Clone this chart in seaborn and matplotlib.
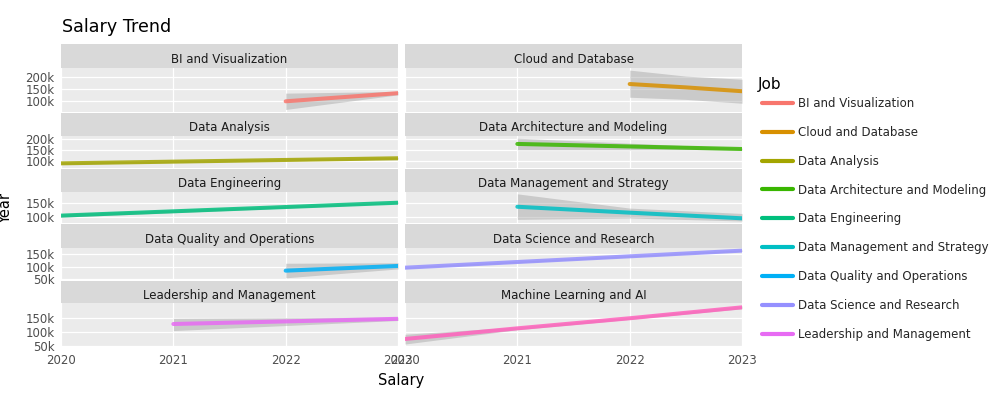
import matplotlib
matplotlib.use("Agg")
import matplotlib.pyplot as plt
from matplotlib.lines import Line2D
from matplotlib.ticker import FuncFormatter, FixedLocator
import seaborn as sns
import pandas as pd

sns.set_style("white")
plt.rcParams["font.family"] = ["DejaVu Sans"]

# ---------------- data ----------------
JOBS = [
    "BI and Visualization", "Cloud and Database", "Data Analysis",
    "Data Architecture and Modeling", "Data Engineering",
    "Data Management and Strategy", "Data Quality and Operations",
    "Data Science and Research", "Leadership and Management",
    "Machine Learning and AI",
]
COLORS = ["#F8766D", "#D89000", "#A3A500", "#39B600", "#00BF7D",
          "#00BFC4", "#00B0F6", "#9590FF", "#E76BF3", "#FF62BC"]

BI_YEARS = [2022, 2023]
BI_FIT = [100000, 134000]
BI_LOW = [66000, 127000]
BI_HIGH = [134000, 141000]

CLOUD_YEARS = [2022, 2022.5, 2023]
CLOUD_FIT = [172000, 158000, 142000]
CLOUD_LOW = [117000, 108000, 92000]
CLOUD_HIGH = [230000, 205000, 192000]

ANALYSIS_YEARS = [2020, 2023]
ANALYSIS_FIT = [88000, 111000]
ANALYSIS_LOW = [84000, 107000]
ANALYSIS_HIGH = [92000, 115000]

ARCH_YEARS = [2021, 2023]
ARCH_FIT = [176000, 153000]
ARCH_LOW = [149000, 149000]
ARCH_HIGH = [202000, 157000]

ENG_YEARS = [2020, 2023]
ENG_FIT = [104000, 152000]
ENG_LOW = [98000, 149000]
ENG_HIGH = [110000, 155000]

MGMT_YEARS = [2021, 2022, 2023]
MGMT_FIT = [137000, 115000, 94000]
MGMT_LOW = [90000, 95000, 84000]
MGMT_HIGH = [185000, 132000, 112000]

QUALITY_YEARS = [2022, 2023]
QUALITY_FIT = [84000, 103000]
QUALITY_LOW = [55000, 91000]
QUALITY_HIGH = [114000, 116000]

SCIENCE_YEARS = [2020, 2023]
SCIENCE_FIT = [96000, 165000]
SCIENCE_LOW = [93000, 162000]
SCIENCE_HIGH = [99000, 168000]

LEAD_YEARS = [2021, 2023]
LEAD_FIT = [127500, 146000]
LEAD_LOW = [104000, 140000]
LEAD_HIGH = [148000, 152000]

ML_YEARS = [2020, 2021, 2022, 2023]
ML_FIT = [74000, 112000, 148000, 187000]
ML_LOW = [56000, 107000, 144000, 182000]
ML_HIGH = [91000, 117000, 152000, 192000]

SERIES = [
    (BI_YEARS, BI_FIT, BI_LOW, BI_HIGH),
    (CLOUD_YEARS, CLOUD_FIT, CLOUD_LOW, CLOUD_HIGH),
    (ANALYSIS_YEARS, ANALYSIS_FIT, ANALYSIS_LOW, ANALYSIS_HIGH),
    (ARCH_YEARS, ARCH_FIT, ARCH_LOW, ARCH_HIGH),
    (ENG_YEARS, ENG_FIT, ENG_LOW, ENG_HIGH),
    (MGMT_YEARS, MGMT_FIT, MGMT_LOW, MGMT_HIGH),
    (QUALITY_YEARS, QUALITY_FIT, QUALITY_LOW, QUALITY_HIGH),
    (SCIENCE_YEARS, SCIENCE_FIT, SCIENCE_LOW, SCIENCE_HIGH),
    (LEAD_YEARS, LEAD_FIT, LEAD_LOW, LEAD_HIGH),
    (ML_YEARS, ML_FIT, ML_LOW, ML_HIGH),
]

ROW_YLIM = [(56700, 240000), (65500, 212000), (76500, 193000),
            (46200, 176900), (44300, 201400)]
ROW_YTICKS = [[100000, 150000, 200000], [100000, 150000, 200000],
              [100000, 150000], [50000, 100000, 150000],
              [50000, 100000, 150000]]
X_TICKS = [2020, 2021, 2022, 2023]

# ---------------- layout (pixel geometry) ----------------
W, H = 1000, 400
ROWS = [(44, 67.7, 111.7), (113.3, 136, 168.3), (169.3, 191.7, 223),
        (224, 247.7, 280), (281, 303.3, 347.3)]
COLS = [(61, 398), (405, 742)]


def rect(l, t, r, b):
    return [l / W, 1 - b / H, (r - l) / W, (b - t) / H]


fig = plt.figure(figsize=(10, 4), dpi=100)
fmt = FuncFormatter(lambda v, p: f"{int(round(v / 1000))}k")

for i, (job, color, (yrs, fit, lo, hi)) in enumerate(zip(JOBS, COLORS, SERIES)):
    r, c = divmod(i, 2)
    st, pt, pb = ROWS[r]
    cl, cr = COLS[c]
    # strip
    sax = fig.add_axes(rect(cl, st, cr, pt))
    sax.set_facecolor("#D9D9D9")
    sax.set_xticks([]); sax.set_yticks([])
    for s in sax.spines.values():
        s.set_visible(False)
    sax.text(0.5, 0.36, job, ha="center", va="center", fontsize=8.5,
             color="#1A1A1A", transform=sax.transAxes)
    # panel
    ax = fig.add_axes(rect(cl, pt, cr, pb))
    ax.set_facecolor("#EBEBEB")
    for s in ax.spines.values():
        s.set_visible(False)
    ax.set_xlim(2020, 2023)
    ax.set_ylim(*ROW_YLIM[r])
    ax.xaxis.set_major_locator(FixedLocator(X_TICKS))
    ax.yaxis.set_major_locator(FixedLocator(ROW_YTICKS[r]))
    ax.yaxis.set_major_formatter(fmt)
    ax.grid(True, color="white", lw=0.9)
    ax.set_axisbelow(True)
    ax.fill_between(yrs, lo, hi, color="#999999", alpha=0.4, lw=0)
    df = pd.DataFrame({"Year": yrs, "Salary": fit})
    sns.lineplot(data=df, x="Year", y="Salary", ax=ax, color=color, lw=2.9,
                 alpha=0.85, legend=False)
    ax.set_xlabel(""); ax.set_ylabel("")
    ax.tick_params(axis="both", labelsize=8.5, labelcolor="#4D4D4D",
                   color="#4D4D4D", length=3, width=0.8, pad=1.5)
    if c == 1:
        ax.tick_params(axis="y", left=False, labelleft=False)
    if r < 4:
        ax.tick_params(axis="x", bottom=False, labelbottom=False)
    else:
        ax.set_xticklabels([str(x) for x in X_TICKS])

fig.text(62 / W, 1 - 27 / H, "Salary Trend", ha="left", va="center",
         fontsize=12.6, color="#000000")
fig.text(401 / W, 1 - 381 / H, "Salary", ha="center", va="center",
         fontsize=10.5, color="#000000")
fig.text(6 / W, 1 - 208 / H, "Year", ha="center", va="center",
         rotation=90, fontsize=10.5, color="#000000")

fig.text(758 / W, 1 - 85 / H, "Job", ha="left", va="center",
         fontsize=11, color="#000000")
handles = [Line2D([0], [0], color=c, lw=3) for c in COLORS[:9]]
leg = fig.legend(handles, JOBS[:9], loc="upper left",
                 bbox_to_anchor=(762 / W, 1 - 97 / H), frameon=False,
                 fontsize=8.45, handlelength=2.6,
                 handletextpad=0.45, labelspacing=1.35, borderaxespad=0,
                 borderpad=0)

fig.savefig("out.png", dpi=100)
